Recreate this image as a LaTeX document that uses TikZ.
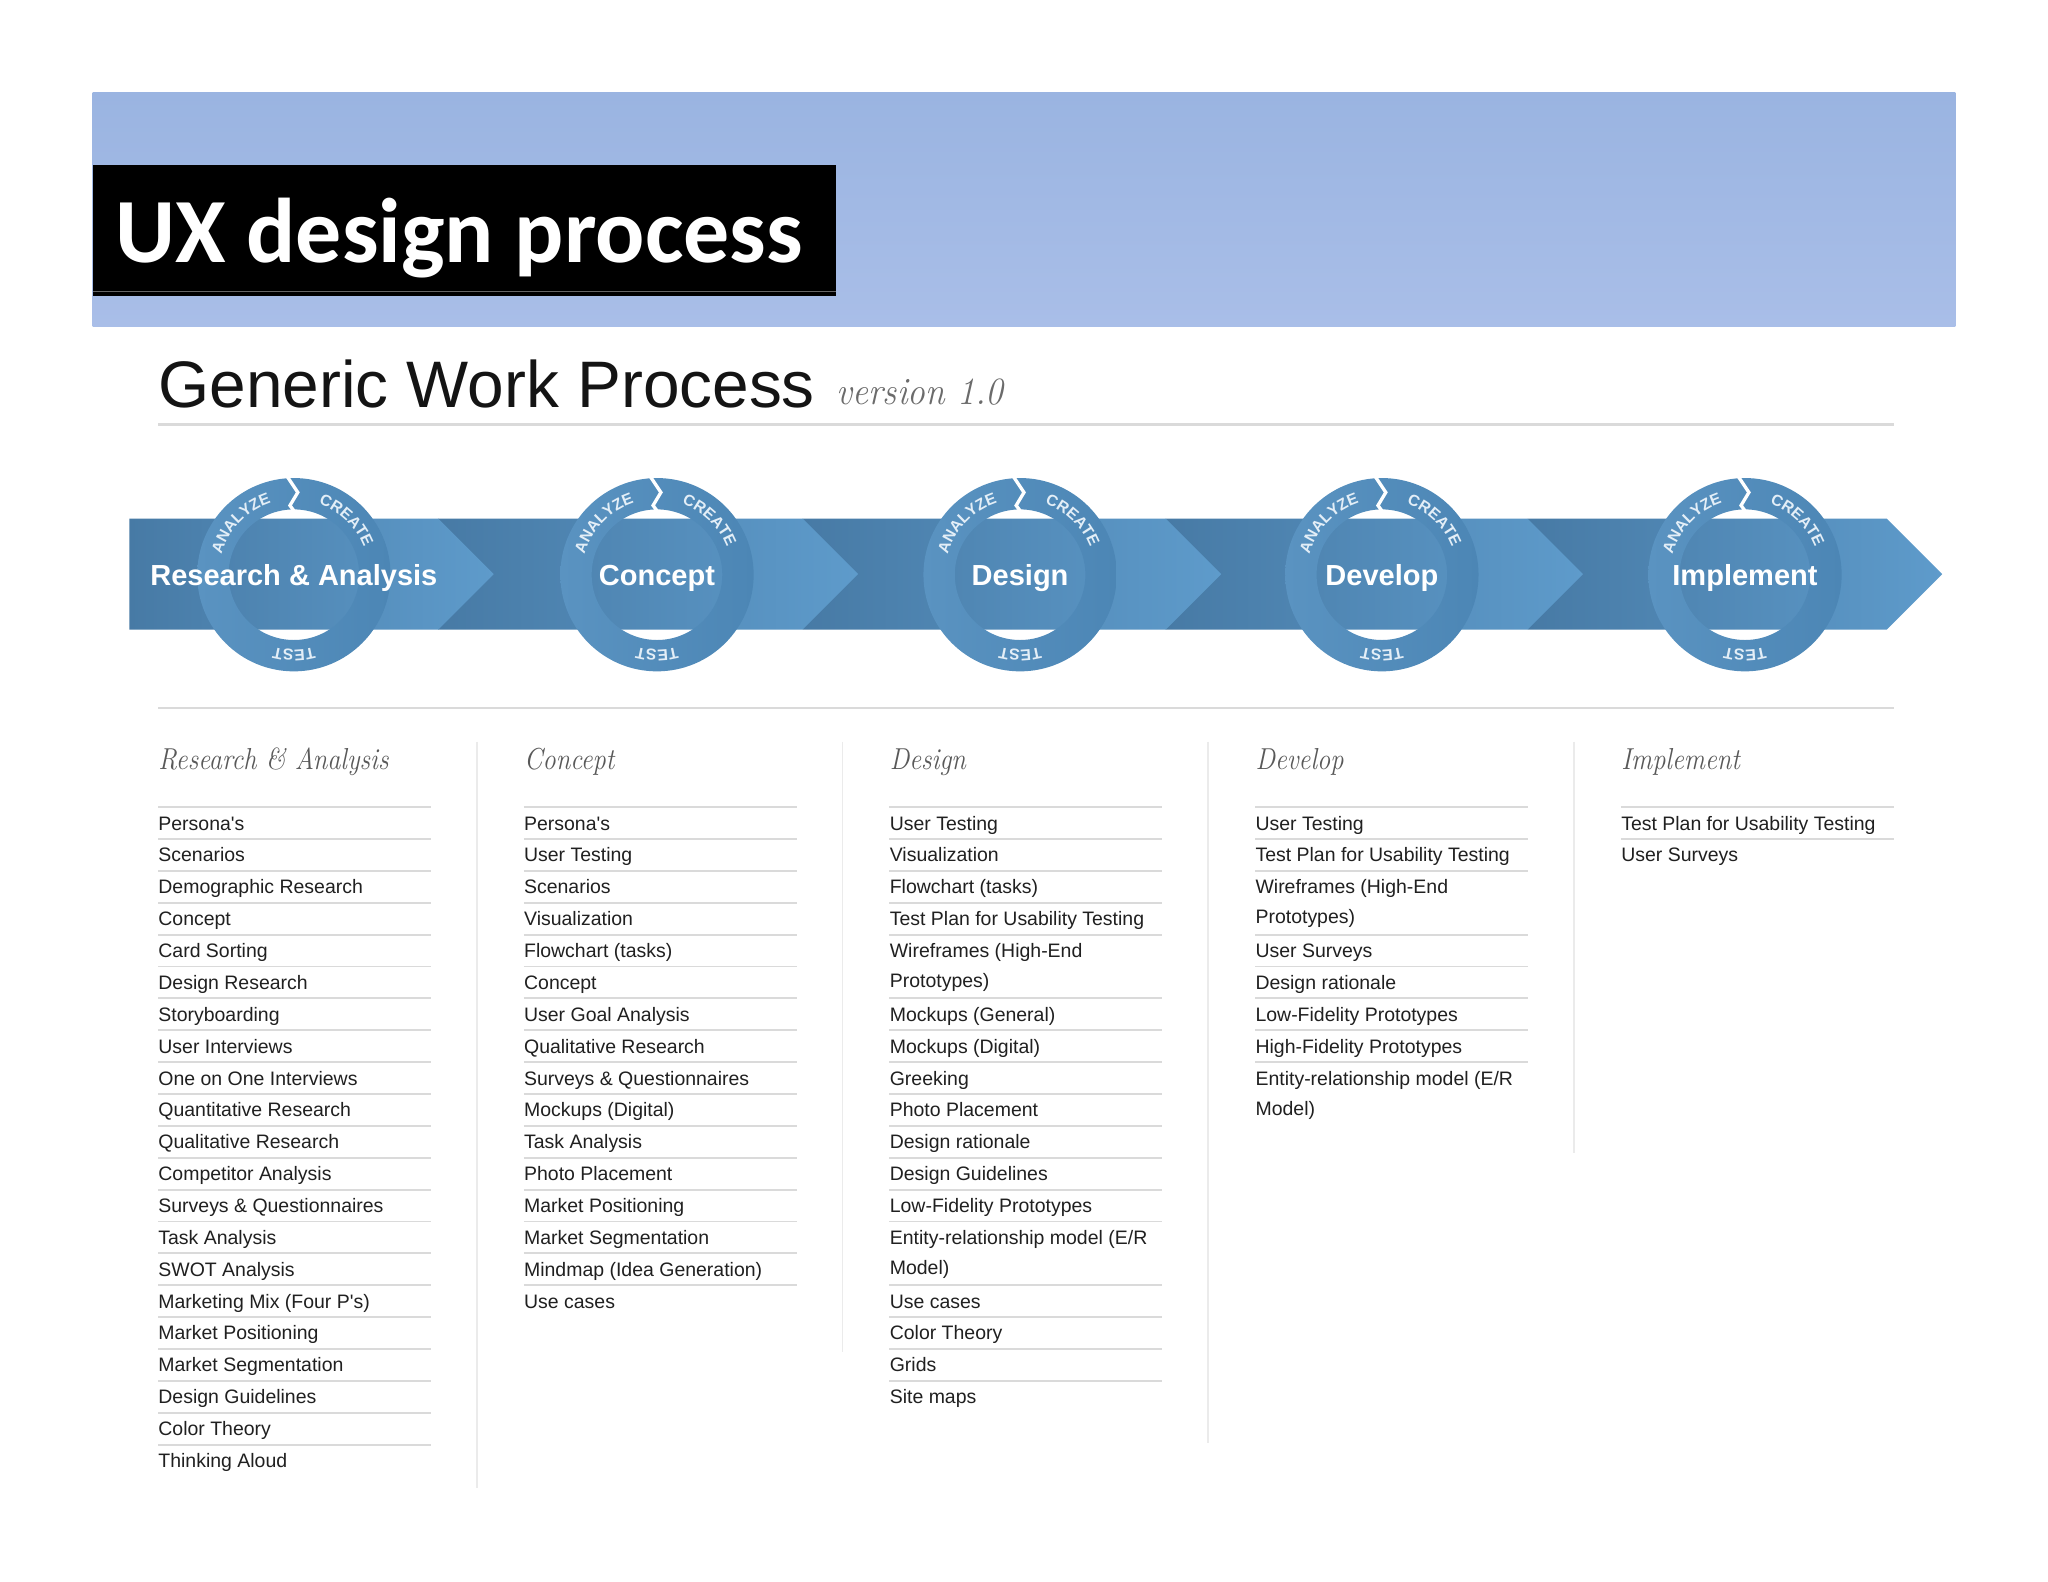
\documentclass[tikz,border=0pt]{standalone}
\usepackage{fontspec}
\usepackage{graphicx}
\usetikzlibrary{decorations.text}
\newfontfamily\itemfont{Liberation Sans}
\newfontfamily\uxfont{Carlito}
\definecolor{bannertop}{HTML}{9AB4E1}
\definecolor{bannerbot}{HTML}{A9BEE8}
\definecolor{banddark}{HTML}{477AA5}
\definecolor{bandlight}{HTML}{5E9BCB}
\definecolor{ringblue}{HTML}{4C86B5}
\definecolor{ringlight}{HTML}{5A93C1}
\definecolor{ringtext}{HTML}{E3EEF7}
\definecolor{rulegray}{HTML}{DADADA}
\definecolor{headgray}{HTML}{595959}
\definecolor{itemblack}{HTML}{202020}
\newcommand\wrapitem[2]{\vtop{\baselineskip=16.4pt\hbox{#1}\hbox{#2}}}
\newcommand\condense[1]{\scalebox{0.87}[1]{#1}}
\newcommand\ringfont{\itemfont\bfseries\fontsize{8.6}{9}\selectfont}
\tikzset{
  uxtitle/.style={anchor=base west, inner sep=0pt, text=white, font=\uxfont\bfseries\fontsize{50}{60}\selectfont},
  stage/.style={anchor=base, inner sep=0pt, text=white, font=\itemfont\bfseries\fontsize{15.8}{18}\selectfont},
  colhead/.style={anchor=base west, inner sep=0pt, text=headgray, font=\fontsize{16.5}{18}\selectfont\itshape},
  item/.style={anchor=base west, inner sep=0pt, text=itemblack, font=\itemfont\fontsize{10.6}{12}\selectfont},
  sepline/.style={draw=rulegray, line width=1pt},
  colrule/.style={draw=black!8, line width=1pt},
  ringword/.style={decorate, decoration={text along path, text align=center, text color=ringtext, text={|\ringfont|#1}}}
}
\begin{document}
\begin{tikzpicture}[x=0.025cm, y=-0.025cm]
\useasboundingbox[fill=white] (0,0) rectangle (1568,1211);
\shade[top color=bannertop, bottom color=bannerbot] (71,71) rectangle (1497,250);
\fill[black] (71,126) rectangle (640,227);
\draw[black!60, line width=0.7pt] (71,223) -- (640,223);
\node[uxtitle] (ux) at (88,200.6) {UX design process};
\node[anchor=base west, inner sep=0pt, text=black!92, font=\itemfont\fontsize{35.8}{40}\selectfont] (gwp) at (121,312) {Generic Work Process};
\node[anchor=base west, inner sep=0pt, text=black!58, font=\fontsize{21}{24}\selectfont\itshape] (ver) at (640,310) {\scalebox{0.92}[1]{version 1.0}};
\draw[rulegray, line width=1.4pt] (121,325) -- (1450,325);
\foreach \xs/\xt in {1169.5/1487, 892.5/1212, 614.5/935, 335.5/657, 99/378}
{
    \shade[left color=banddark, right color=bandlight] (\xs,397) -- (\xt-42.5,397) -- (\xt,439.5) -- (\xt-42.5,482) -- (\xs,482) -- cycle;
}
\foreach \cx/\name [count=\i] in {225/Research \& Analysis, 503/Concept, 781/Design, 1058/Develop, 1336/Implement}
{
    \begin{scope}[shift={(\cx,440)}, y=0.025cm]
        \shade[even odd rule, left color=ringlight, right color=ringblue] (0,0) circle (74) (0,0) circle (50);
        \draw[white, line width=1.8pt] (-5,75) -- (3,63) -- (-3,53) -- (0,49);
        \path[ringword=ANALYZE] (174:57.5) arc (174:98:57.5);
        \path[ringword=CREATE] (84:57.5) arc (84:8:57.5);
        \path[ringword=TEST] (300:57.5) arc (300:240:57.5);
    \end{scope}
    \node[stage] (s\i) at (\cx,448) {\name};
}
\draw[rulegray, line width=1.4pt] (121,542) -- (1450,542);
\foreach \x/\head [count=\i] in {121/Research \& Analysis, 401/Concept, 681/Design, 961/Develop, 1241/Implement}
{
    \node[colhead] (h\i) at (\x,589) {\condense{\head}};
}
\foreach \x/\yend in {365/1139, 645/1035, 925/1105, 1205/883}
{
    \draw[colrule] (\x,568) -- (\x,\yend);
}
\foreach \x/\items [count=\c] in {
    121/{0/Persona\textquotesingle s, 1/Scenarios, 2/Demographic Research, 3/Concept, 4/Card Sorting, 5/Design Research, 6/Storyboarding, 7/User Interviews, 8/One on One Interviews, 9/Quantitative Research, 10/Qualitative Research, 11/Competitor Analysis, 12/Surveys \& Questionnaires, 13/Task Analysis, 14/SWOT Analysis, 15/Marketing Mix (Four P\textquotesingle s), 16/Market Positioning, 17/Market Segmentation, 18/Design Guidelines, 19/Color Theory, 20/Thinking Aloud},
    401/{0/Persona\textquotesingle s, 1/User Testing, 2/Scenarios, 3/Visualization, 4/Flowchart (tasks), 5/Concept, 6/User Goal Analysis, 7/Qualitative Research, 8/Surveys \& Questionnaires, 9/Mockups (Digital), 10/Task Analysis, 11/Photo Placement, 12/Market Positioning, 13/Market Segmentation, 14/Mindmap (Idea Generation), 15/Use cases},
    681/{0/User Testing, 1/Visualization, 2/Flowchart (tasks), 3/Test Plan for Usability Testing, 4/{\wrapitem{Wireframes (High-End}{Prototypes)}}, 6/Mockups (General), 7/Mockups (Digital), 8/Greeking, 9/Photo Placement, 10/Design rationale, 11/Design Guidelines, 12/Low-Fidelity Prototypes, 13/{\wrapitem{Entity-relationship model (E/R}{Model)}}, 15/Use cases, 16/Color Theory, 17/Grids, 18/Site maps},
    961/{0/User Testing, 1/Test Plan for Usability Testing, 2/{\wrapitem{Wireframes (High-End}{Prototypes)}}, 4/User Surveys, 5/Design rationale, 6/Low-Fidelity Prototypes, 7/High-Fidelity Prototypes, 8/{\wrapitem{Entity-relationship model (E/R}{Model)}}},
    1241/{0/Test Plan for Usability Testing, 1/User Surveys}}
{
    \foreach \s/\t in \items
    {
        \draw[sepline] (\x,618+\s*24.4) -- ++(209,0);
        \node[item] (i\c-\s) at (\x,635.5+\s*24.4) {\t};
    }
}
\end{tikzpicture}
\end{document}
